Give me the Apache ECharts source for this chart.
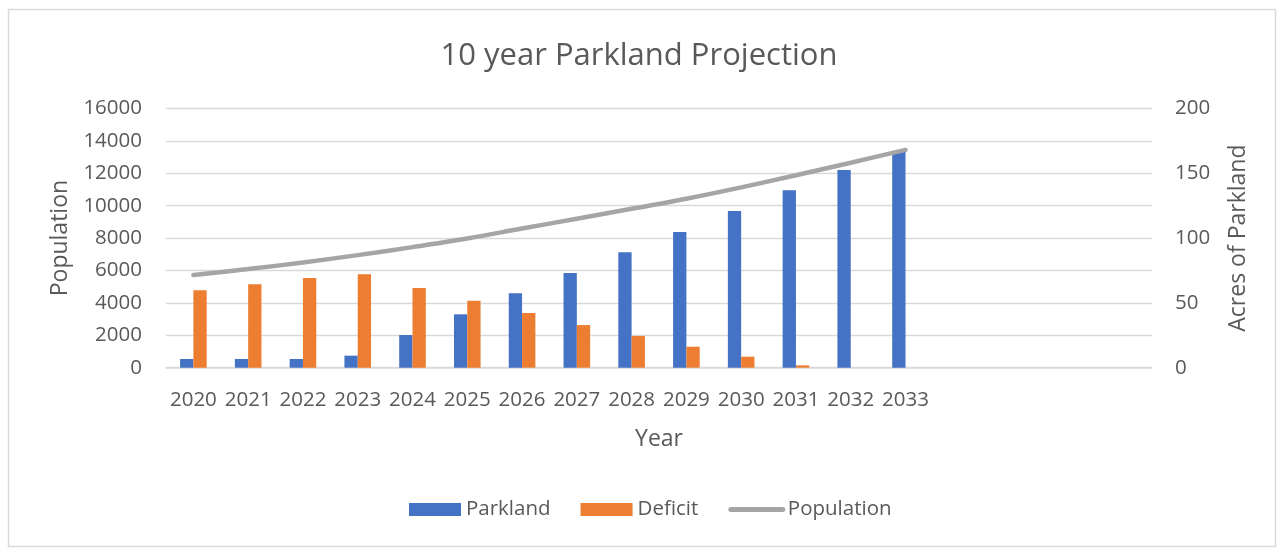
<!DOCTYPE html>
<html>
<head>
<meta charset="utf-8">
<script src="https://cdn.jsdelivr.net/npm/echarts@6/dist/echarts.min.js"></script>
<style>html,body{margin:0;padding:0;background:#fff;}#c{width:1278px;height:548px;}</style>
</head>
<body>
<div id="c"></div>
<script>
const categories = ['2020','2021','2022','2023','2024','2025','2026','2027','2028','2029','2030','2031','2032','2033','','','',''];
const parkland = [6.7, 6.7, 6.7, 9.3, 25.2, 41.2, 57.4, 73.1, 89.0, 104.7, 120.9, 136.9, 152.5, 166.7];
const deficit = [59.7, 64.3, 69.2, 72.1, 61.5, 51.7, 42.2, 32.9, 24.5, 16.2, 8.5, 1.8, 0, 0];
const population = [5716, 6086, 6494, 6950, 7444, 7975, 8593, 9191, 9809, 10432, 11130, 11877, 12654, 13444];

const FONT = 'Open Sans';
const TXT = '#595959';
const LBL = 20.5;
const chart = echarts.init(document.getElementById('c'), null, {renderer: 'canvas'});
chart.setOption({
  animation: false,
  backgroundColor: '#fff',
  textStyle: {fontFamily: FONT, color: TXT},
  graphic: [{
    type: 'rect',
    shape: {x: 8.5, y: 9.5, width: 1267, height: 537},
    style: {fill: 'none', stroke: '#D9D9D9', lineWidth: 1.5},
    silent: true
  }],
  title: {
    text: '10 year Parkland Projection',
    left: 'center',
    top: 36,
    textStyle: {fontFamily: FONT, fontSize: 31, fontWeight: 'normal', color: TXT}
  },
  legend: {
    left: 409,
    top: 499,
    padding: 0,
    itemWidth: 52,
    itemHeight: 13,
    itemGap: 30,
    textStyle: {fontFamily: FONT, fontSize: LBL, color: TXT},
    data: [
      {name: 'Parkland', icon: 'rect'},
      {name: 'Deficit', icon: 'rect'},
      {name: 'Population', itemStyle: {opacity: 0}, lineStyle: {width: 5, cap: 'round', color: '#A5A5A5'}}
    ]
  },
  grid: {left: 166, right: 126, top: 108.5, bottom: 180.3, containLabel: false},
  xAxis: {
    type: 'category',
    data: categories,
    boundaryGap: true,
    name: 'Year',
    nameLocation: 'middle',
    nameGap: 60,
    nameTextStyle: {fontFamily: FONT, fontSize: 23, color: TXT},
    axisLine: {lineStyle: {color: '#D9D9D9', width: 1.5}},
    axisTick: {show: false},
    axisLabel: {interval: 0, fontFamily: FONT, fontSize: LBL, color: TXT, margin: 22}
  },
  yAxis: [{
    type: 'value',
    min: 0, max: 16000, interval: 2000,
    name: 'Population',
    nameLocation: 'middle',
    nameGap: 94,
    nameRotate: 90,
    nameTextStyle: {fontFamily: FONT, fontSize: 23, color: TXT},
    axisLine: {show: false},
    axisTick: {show: false},
    axisLabel: {fontFamily: FONT, fontSize: LBL, color: TXT, margin: 24, formatter: v => String(v)},
    splitLine: {lineStyle: {color: '#D9D9D9', width: 1.3}}
  }, {
    type: 'value',
    min: 0, max: 200, interval: 50,
    name: 'Acres of Parkland',
    nameLocation: 'middle',
    nameGap: 75,
    nameRotate: 90,
    nameTextStyle: {fontFamily: FONT, fontSize: 23, color: TXT},
    axisLine: {show: false},
    axisTick: {show: false},
    axisLabel: {fontFamily: FONT, fontSize: LBL, color: TXT, margin: 23, formatter: v => String(v)},
    splitLine: {show: false}
  }],
  series: [{
    name: 'Parkland',
    type: 'bar',
    yAxisIndex: 1,
    data: parkland,
    barWidth: 13.3,
    barGap: '0%',
    itemStyle: {color: '#4472C4'}
  }, {
    name: 'Deficit',
    type: 'bar',
    yAxisIndex: 1,
    data: deficit,
    barWidth: 13.3,
    barGap: '0%',
    itemStyle: {color: '#ED7D31'}
  }, {
    name: 'Population',
    type: 'line',
    yAxisIndex: 0,
    data: population,
    smooth: 0.3,
    symbol: 'none',
    showSymbol: false,
    lineStyle: {color: '#A5A5A5', width: 4.5, cap: 'round'},
    itemStyle: {color: '#A5A5A5'}
  }]
});
</script>
</body>
</html>
